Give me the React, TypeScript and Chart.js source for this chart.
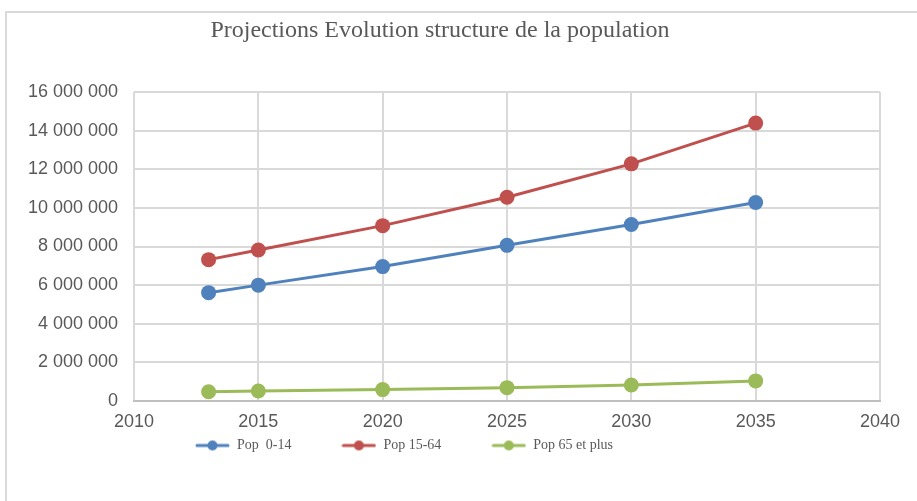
import React, { useEffect, useRef } from "react";
import { Chart, registerables } from "chart.js";

Chart.register(...registerables);

const TITLE = "Projections Evolution structure de la population";
const years = [2013, 2015, 2020, 2025, 2030, 2035];
const seriesNames = ["Pop  0-14", "Pop 15-64", "Pop 65 et plus"];
const pop0to14 = [5610000, 6000000, 6960000, 8060000, 9140000, 10280000];
const pop15to64 = [7320000, 7820000, 9080000, 10550000, 12280000, 14390000];
const pop65plus = [480000, 520000, 590000, 690000, 830000, 1040000];
const seriesColors = ["#4F81BD", "#C0504D", "#9BBB59"];

const TEXT = "#595959";
const GRID = "#d9d9d9";

function formatThousands(v: number): string {
  const s = Math.round(v).toString();
  return s.replace(/\B(?=(\d{3})+(?!\d))/g, " ");
}

function legendSymbol(color: string): HTMLCanvasElement {
  const c = document.createElement("canvas");
  c.width = 35;
  c.height = 14;
  const ctx = c.getContext("2d")!;
  ctx.strokeStyle = color;
  ctx.lineWidth = 3;
  ctx.lineCap = "round";
  ctx.beginPath();
  ctx.moveTo(2, 7);
  ctx.lineTo(33, 7);
  ctx.stroke();
  ctx.fillStyle = color;
  ctx.beginPath();
  ctx.arc(17.5, 7, 5, 0, Math.PI * 2);
  ctx.fill();
  return c;
}

const legendShift = {
  id: "legendShift",
  afterLayout(chart: any, _args: any, opts: any) {
    const l = chart.legend;
    if (!l) return;
    const dx = opts.dx || 0;
    const dy = opts.dy || 0;
    l.left += dx;
    l.right += dx;
    l.top += dy;
    l.bottom += dy;
  },
};

export default function App() {
  const ref = useRef<HTMLCanvasElement | null>(null);

  useEffect(() => {
    if (!ref.current) return;
    const allSeries = [pop0to14, pop15to64, pop65plus];
    const symbols = seriesColors.map((c) => legendSymbol(c));
    const chart = new Chart(ref.current, {
      type: "line",
      data: {
        datasets: allSeries.map((vals, i) => ({
          label: seriesNames[i],
          data: years.map((y, j) => ({ x: y, y: vals[j] })),
          borderColor: seriesColors[i],
          backgroundColor: seriesColors[i],
          pointBackgroundColor: seriesColors[i],
          pointBorderColor: seriesColors[i],
          pointBorderWidth: 0,
          pointRadius: 7.5,
          borderWidth: 3,
          tension: 0,
        })),
      },
      plugins: [legendShift],
      options: {
        animation: false,
        responsive: false,
        devicePixelRatio: 1,
        layout: { padding: { left: 0, right: 37, top: 0, bottom: 0 } },
        scales: {
          x: {
            type: "linear",
            min: 2010,
            max: 2040,
            ticks: {
              stepSize: 5,
              color: TEXT,
              padding: 10,
              font: { family: "'Liberation Sans', Arial, sans-serif", size: 18 },
              callback: (v: any) => String(v),
            },
            grid: { color: GRID, lineWidth: 2, drawTicks: false },
            border: { display: true, color: "#bfbfbf", width: 2 },
            afterFit: (s: any) => {
              s.height = 26;
            },
          },
          y: {
            min: 0,
            max: 16000000,
            ticks: {
              stepSize: 2000000,
              color: TEXT,
              padding: 16,
              font: { family: "'Liberation Sans', Arial, sans-serif", size: 18 },
              callback: (v: any) => formatThousands(Number(v)),
            },
            grid: { color: GRID, lineWidth: 2, drawTicks: false },
            border: { display: false },
            afterFit: (s: any) => {
              s.width = 134;
            },
          },
        },
        plugins: {
          title: {
            display: true,
            text: TITLE,
            color: TEXT,
            font: { family: "'Liberation Serif', 'Times New Roman', serif", size: 24, weight: "normal" },
            padding: { top: 16, bottom: 47.2 },
          },
          legend: {
            position: "bottom",
            labels: {
              color: TEXT,
              font: { family: "'Liberation Serif', 'Times New Roman', serif", size: 14 },
              usePointStyle: true,
              pointStyleWidth: 35,
              boxHeight: 14,
              padding: 50,
              generateLabels: (ch: any) => {
                const items = Chart.defaults.plugins.legend.labels.generateLabels(ch);
                return items.map((it: any, i: number) => ({ ...it, pointStyle: symbols[i] }));
              },
            },
          },
          tooltip: { enabled: false },
          legendShift: { dx: -36, dy: -38.5 },
        } as any,
      },
    } as any);
    return () => chart.destroy();
  }, []);

  return (
    <div style={{ position: "fixed", left: 0, top: 0, width: 917, height: 501, background: "#ffffff" }}>
      <div
        style={{
          position: "absolute",
          left: 5,
          top: 11,
          width: 912,
          height: 490,
          borderTop: "2px solid #d9d9d9",
          borderLeft: "2px solid #d9d9d9",
        }}
      />
      <canvas ref={ref} width={917} height={501} style={{ position: "absolute", left: 0, top: 0 }} />
    </div>
  );
}
